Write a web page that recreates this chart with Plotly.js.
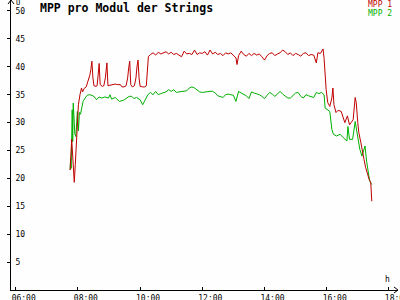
<!DOCTYPE html>
<html>
<head>
<meta charset="utf-8">
<script src="https://cdn.plot.ly/plotly-3.0.1.min.js"></script>
<style>html,body{margin:0;padding:0;background:#fff;}#chart{width:400px;height:300px;}</style>
</head>
<body>
<div id="chart"></div>
<script>
const day = '2024-01-01 ';
const seriesNames = ['MPP 1', 'MPP 2'];
const xTickLabels = ['06:00', '08:00', '10:00', '12:00', '14:00', '16:00', '18:00'];
const yTickValues = [5, 10, 15, 20, 25, 30, 35, 40, 45, 50];

const mpp1Times = ['07:45','07:46','07:48','07:50','07:52','07:53','07:55','07:57','07:58','08:00','08:01','08:04','08:07','08:09','08:12','08:16','08:20','08:23','08:25','08:27','08:29','08:31','08:35','08:37','08:39','08:41','08:43','08:47','08:50','08:53','08:56','08:58','09:02','09:07','09:12','09:17','09:22','09:25','09:29','09:33','09:36','09:38','09:40','09:42','09:45','09:49','09:52','09:54','09:56','09:58','10:00','10:05','10:09','10:12','10:14','10:16',
'10:20','10:25','10:30','10:35','10:40','10:45','10:50','10:55','11:00','11:05','11:10','11:15','11:20','11:25','11:30','11:35','11:40','11:45','11:50','11:55','12:00','12:05','12:10','12:15','12:20','12:25','12:30','12:35','12:40','12:45','12:50','12:55','13:00','13:05','13:07','13:10','13:15','13:20','13:25','13:30','13:35','13:40','13:45','13:50','13:55','14:00','14:05','14:10','14:15','14:20','14:25','14:30','14:35','14:40','14:45','14:50','14:55','15:00','15:05','15:10','15:15','15:20','15:25','15:30','15:35','15:40','15:43','15:48','15:53',
'15:55','15:59','16:02','16:06','16:10','16:12','16:14','16:18','16:22','16:28','16:32','16:35','16:40','16:44','16:47','16:51','16:55','16:57','17:00','17:02','17:06','17:09','17:12','17:15','17:18','17:22','17:25','17:27'];
const mpp1Values = [21.5,24.5,27.0,24.0,20.5,19.3,22.5,25.5,28.4,31.5,33.2,35.0,36.2,35.5,36.1,36.4,37.5,38.5,39.5,41.0,38.0,36.6,36.5,36.6,38.5,40.6,36.8,36.5,36.6,38.0,40.7,36.6,36.7,36.8,36.9,36.8,36.8,36.4,36.4,36.6,38.0,39.8,41.0,36.8,36.4,36.6,38.0,40.0,41.2,38.0,36.5,36.4,36.4,36.6,40.0,41.8,
42.2,42.5,42.1,42.6,42.3,42.5,42.7,42.3,42.6,42.2,42.4,42.1,41.8,42.8,42.3,42.4,42.2,43.0,42.2,42.5,42.4,42.7,42.1,43.0,42.3,42.6,42.2,42.4,42.0,42.5,42.3,42.5,42.0,41.6,40.4,42.0,42.8,42.2,41.9,42.4,42.0,42.4,42.1,42.3,41.8,41.2,42.0,42.4,42.5,42.0,42.3,42.5,43.0,42.7,42.2,42.5,42.0,42.4,42.2,41.9,42.4,42.5,42.0,42.2,42.1,40.7,42.5,42.4,43.2,
41.5,35.9,33.6,32.9,34.4,36.2,33.2,31.8,32.2,32.0,30.9,30.0,31.2,29.6,30.0,30.5,34.5,33.6,30.0,28.2,26.4,24.6,23.4,22.0,21.0,19.8,19.3,15.9];

const mpp2Times = ['07:45','07:46','07:47','07:49','07:50','07:51','07:53','07:54','07:56','07:58','07:59','08:01','08:03','08:05','08:08','08:10','08:14','08:18','08:23','08:29','08:33','08:36','08:41','08:46','08:52','08:59','09:02','09:05','09:12','09:16','09:20','09:28','09:34','09:39','09:44','09:48','09:53','09:58',
'10:00','10:05','10:10','10:15','10:20','10:25','10:30','10:35','10:40','10:45','10:50','10:55','11:00','11:05','11:10','11:15','11:20','11:25','11:30','11:35','11:40','11:45','11:50','11:55','12:00','12:05','12:10','12:15','12:20','12:25','12:30','12:35','12:40','12:45','12:50','12:55','13:00','13:05','13:10','13:15','13:20','13:25','13:30','13:35','13:40','13:45','13:50','13:55','14:00','14:05','14:10','14:15','14:20','14:25','14:30','14:35','14:40','14:45','14:50','14:55','15:00','15:05','15:10','15:15','15:20','15:25','15:30','15:35','15:40','15:45','15:50','15:55',
'15:57','16:03','16:06','16:10','16:13','16:19','16:26','16:32','16:39','16:41','16:44','16:50','16:53','16:55','16:58','17:01','17:04','17:08','17:11','17:14','17:17','17:20','17:23','17:27'];
const mpp2Values = [21.5,23.6,21.8,32.3,26.6,33.5,30.0,28.0,27.5,30.5,32.0,28.5,31.8,31.5,33.2,33.8,34.4,34.9,35.0,34.8,34.5,34.1,34.6,34.4,34.6,34.4,35.0,34.2,34.5,34.2,33.8,34.0,34.4,34.7,34.7,34.3,34.5,34.1,
34.1,33.2,34.0,35.0,35.4,35.0,35.6,35.0,35.2,35.3,35.5,35.9,35.6,35.9,35.4,35.5,35.6,35.6,35.7,36.2,36.4,36.2,35.8,35.5,35.4,35.5,35.6,35.6,35.6,35.3,34.8,34.7,34.5,35.0,35.1,35.0,34.9,33.8,35.6,35.3,35.0,34.8,34.3,35.5,35.3,35.2,35.0,34.7,34.3,34.9,35.4,35.1,34.7,35.1,35.6,35.1,34.7,34.4,34.4,34.9,35.3,35.4,34.7,34.4,35.0,34.8,34.7,34.5,35.4,35.2,35.4,35.0,
32.6,32.3,32.0,28.8,27.9,27.6,27.9,27.3,26.7,29.3,27.0,27.0,29.1,30.2,28.5,27.0,25.2,24.0,24.9,25.8,23.1,21.3,19.5,18.9];

const colors = ['#c00000', '#00b000'];
const mono = 'DejaVu Sans Mono';

const traces = [
  {x: mpp1Times.map(t => day + t), y: mpp1Values, name: seriesNames[0], type: 'scatter', mode: 'lines', line: {color: colors[0], width: 1}},
  {x: mpp2Times.map(t => day + t), y: mpp2Values, name: seriesNames[1], type: 'scatter', mode: 'lines', line: {color: colors[1], width: 1}}
];
// draw MPP2 below MPP1
traces.reverse();

const xRange = [day + '05:50:56', day + '18:17:36'];
const yRange = [0, 51.97];

const layout = {
  width: 400, height: 300,
  margin: {l: 11, r: 2, t: 0, b: 10, pad: 0},
  paper_bgcolor: '#fefefe', plot_bgcolor: '#fefefe',
  showlegend: false,
  title: {text: 'MPP pro Modul der Strings', x: 40/400, xanchor: 'left', y: 1 - 8/300, yanchor: 'middle',
          font: {family: mono, size: 11.5, weight: 'bold', color: '#000'}},
  xaxis: {type: 'date', range: xRange, showgrid: false, zeroline: false,
          showline: true, linecolor: '#000', linewidth: 1,
          tickvals: xTickLabels.map(t => day + t), ticktext: xTickLabels,
          ticks: 'inside', ticklen: 3, tickcolor: '#000', tickwidth: 1,
          ticklabelshift: 8, ticklabelstandoff: 0, ticklabeloverflow: 'allow',
          tickfont: {family: mono, size: 8, color: '#000'}, fixedrange: true},
  xaxis2: {type: 'date', range: xRange, overlaying: 'x', anchor: 'y', side: 'bottom',
           showgrid: false, zeroline: false, showline: false, showticklabels: false,
           tickvals: xTickLabels.map(t => day + t), ticks: 'outside', ticklen: 2, tickcolor: '#000'},
  yaxis: {range: yRange, showgrid: false, zeroline: false,
          showline: true, linecolor: '#000', linewidth: 1,
          tickvals: yTickValues, ticks: 'outside', ticklen: 3, tickcolor: '#000', tickwidth: 1,
          ticklabelposition: 'inside', ticklabelstandoff: 3, ticklabeloverflow: 'allow',
          tickfont: {family: mono, size: 8, color: '#000'}, fixedrange: true},
  yaxis2: {range: yRange, overlaying: 'y', anchor: 'x', side: 'left',
           showgrid: false, zeroline: false, showline: false, showticklabels: false,
           tickvals: yTickValues, ticks: 'inside', ticklen: 3, tickcolor: '#000'},
  shapes: [
    {type: 'path', xref: 'paper', yref: 'paper', xsizemode: 'pixel', ysizemode: 'pixel', xanchor: 0, yanchor: 1,
     path: 'M-3,-4 L0,0 L3,-4', line: {color: '#000', width: 1}},
    {type: 'path', xref: 'paper', yref: 'paper', xsizemode: 'pixel', ysizemode: 'pixel', xanchor: 1, yanchor: 0,
     path: 'M-4,3 L0,0 L-4,-3', line: {color: '#000', width: 1}}
  ],
  annotations: [
    {xref: 'paper', yref: 'paper', x: 1, y: 1, xanchor: 'right', yanchor: 'middle', xshift: -4, yshift: -4,
     text: seriesNames[0], showarrow: false, font: {family: mono, size: 8, color: colors[0]}},
    {xref: 'paper', yref: 'paper', x: 1, y: 1, xanchor: 'right', yanchor: 'middle', xshift: -4, yshift: -13,
     text: seriesNames[1], showarrow: false, font: {family: mono, size: 8, color: colors[1]}},
    {xref: 'paper', yref: 'paper', x: 0, y: 1, xanchor: 'left', yanchor: 'top', xshift: 3, yshift: 3,
     text: 'U', showarrow: false, font: {family: mono, size: 7, color: '#000'}},
    {xref: 'paper', yref: 'paper', x: 1, y: 0, xanchor: 'right', yanchor: 'bottom', xshift: -6, yshift: 4,
     text: 'h', showarrow: false, font: {family: mono, size: 8, color: '#000'}}
  ]
};

Plotly.newPlot('chart', traces, layout, {staticPlot: true, displayModeBar: false});
</script>
</body>
</html>
